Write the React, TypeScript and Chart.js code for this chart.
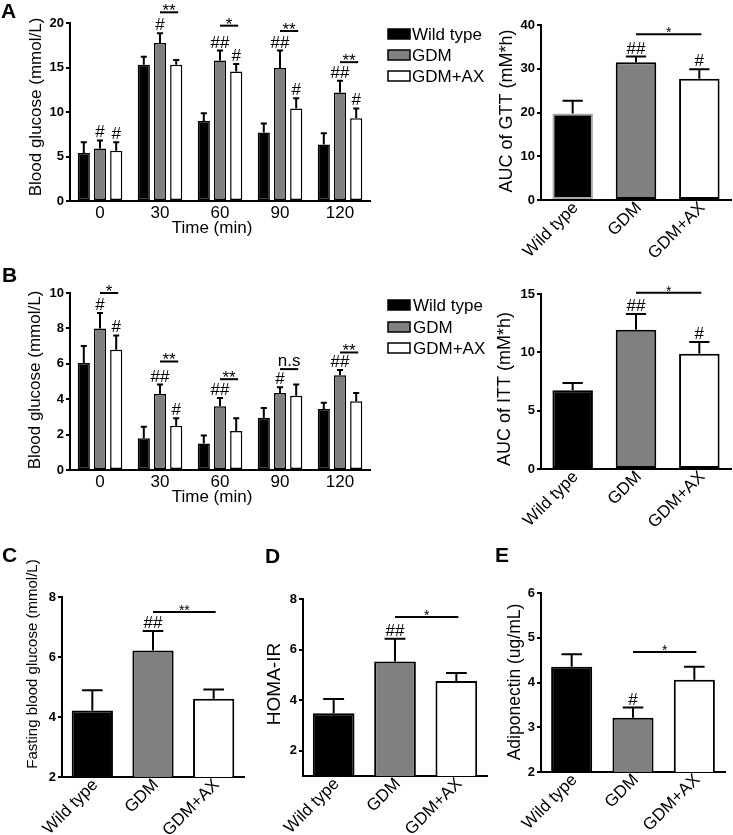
import React, { useEffect, useRef } from "react";
import { Chart, registerables } from "chart.js";

Chart.register(...registerables);

const FONT = 'Arial, "Liberation Sans", Helvetica, sans-serif';
Chart.defaults.font.family = FONT;

// ---------- data ----------
const timePoints = ["0", "30", "60", "90", "120"];
const groupNames = ["Wild type", "GDM", "GDM+AX"];

// A: glucose tolerance test
const gttWT = [5.4, 15.3, 9.0, 7.7, 6.35];
const gttWTErr = [1.2, 0.9, 0.85, 1.0, 1.25];
const gttGDM = [5.9, 17.75, 15.8, 14.95, 12.2];
const gttGDMErr = [0.9, 1.1, 1.1, 1.95, 1.3];
const gttAX = [5.65, 15.3, 14.55, 10.4, 9.3];
const gttAXErr = [0.95, 0.55, 0.85, 1.15, 1.1];
const gttHashGDM = ["#", "#", "##", "##", "##"];
const gttHashAX = ["#", "", "#", "#", "#"];
const gttSig = ["", "**", "*", "**", "**"];
const gttSigLevel = [0, 21.2, 19.7, 19.1, 15.6];
const gttTicks = { min: 0, max: 20, step: 5 };

// B: insulin tolerance test
const ittWT = [6.05, 1.8, 1.5, 2.95, 3.45];
const ittWTErr = [0.95, 0.65, 0.45, 0.55, 0.35];
const ittGDM = [8.0, 4.3, 3.6, 4.35, 5.35];
const ittGDMErr = [0.87, 0.53, 0.47, 0.32, 0.3];
const ittAX = [6.8, 2.5, 2.2, 4.2, 3.88];
const ittAXErr = [0.8, 0.42, 0.72, 0.63, 0.47];
const ittHashGDM = ["#", "##", "##", "#", "##"];
const ittHashAX = ["#", "#", "", "", ""];
const ittSig = ["*", "**", "**", "n.s", "**"];
const ittSigLevel = [10.0, 6.13, 5.13, 5.7, 6.64];
const ittTicks = { min: 0, max: 10, step: 2 };

// AUC GTT
const gttAuc = [19.8, 31.5, 27.7];
const gttAucErr = [2.9, 1.3, 2.2];
const gttAucHash = ["", "##", "#"];
const gttAucSig = "*";
const gttAucSigLevel = 37.9;

// AUC ITT
const ittAuc = [6.74, 11.94, 9.88];
const ittAucErr = [0.63, 1.34, 1.0];
const ittAucHash = ["", "##", "#"];
const ittAucSig = "*";
const ittAucSigLevel = 15.1;

// C: fasting blood glucose
const fbg = [4.22, 6.22, 4.61];
const fbgErr = [0.67, 0.65, 0.31];
const fbgHash = ["", "##", ""];
const fbgSig = "**";
const fbgSigLevel = 7.5;

// D: HOMA-IR
const homa = [3.48, 5.53, 4.76];
const homaErr = [0.57, 0.9, 0.31];
const homaHash = ["", "##", ""];
const homaSig = "*";
const homaSigLevel = 7.29;

// E: adiponectin
const adipo = [4.35, 3.21, 4.06];
const adipoErr = [0.28, 0.23, 0.29];
const adipoHash = ["", "#", ""];
const adipoSig = "*";
const adipoSigLevel = 4.68;

// ---------- styles ----------
const C_WT = "#000000";
const C_GDM = "#808080";
const C_AX = "#ffffff";

type TextItem = { text: string; x: number; y: number; font: string; rotate?: boolean; baseline?: CanvasTextBaseline; align?: CanvasTextAlign };
type Pair = { a: [number, number]; b: [number, number]; level: number; text: string };

type Spec = {
  box: { x: number; y: number; w: number; h: number };
  area: { top: number; right: number; yw: number; xh: number };
  labels: string[];
  datasets: any[];
  errors: number[][];
  hashes: string[][];
  pairs: Pair[];
  yTicks: { min: number; max: number; step: number };
  rot: number;
  xPad: number;
  xShift: number;
  starFont: string;
  starDy: number;
  texts: TextItem[];
  legend?: { x: number; rows: number[]; textX: number };
};

function makeAnnot(p: Spec) {
  return {
    id: "annot",
    afterDatasetsDraw(chart: any) {
      const ctx = chart.ctx as CanvasRenderingContext2D;
      const ys = chart.scales.y;
      ctx.save();
      ctx.strokeStyle = "#000";
      ctx.fillStyle = "#000";
      ctx.lineWidth = 2;
      p.errors.forEach((errs, di) => {
        const meta = chart.getDatasetMeta(di);
        const data = chart.data.datasets[di].data;
        meta.data.forEach((el: any, i: number) => {
          const e = errs[i];
          if (!e) return;
          const top = ys.getPixelForValue(data[i] + e);
          const half = el.width * 0.25;
          ctx.beginPath();
          ctx.moveTo(el.x, el.y);
          ctx.lineTo(el.x, top);
          ctx.moveTo(el.x - half, top);
          ctx.lineTo(el.x + half, top);
          ctx.stroke();
          const h = (p.hashes[di] || [])[i];
          if (h) {
            ctx.font = `17px ${FONT}`;
            ctx.textAlign = "center";
            ctx.textBaseline = "alphabetic";
            ctx.fillText(h, el.x, top - 3);
          }
        });
      });
      p.pairs.forEach((pr) => {
        const a = chart.getDatasetMeta(pr.a[0]).data[pr.a[1]];
        const b = chart.getDatasetMeta(pr.b[0]).data[pr.b[1]];
        const yy = ys.getPixelForValue(pr.level);
        ctx.beginPath();
        ctx.moveTo(a.x, yy);
        ctx.lineTo(b.x + 2, yy);
        ctx.stroke();
        const isStar = /^\*+$/.test(pr.text);
        ctx.textAlign = "center";
        ctx.textBaseline = "alphabetic";
        ctx.font = isStar ? p.starFont : `17px ${FONT}`;
        ctx.fillText(pr.text, (a.x + b.x) / 2 + 1, isStar ? yy + p.starDy : yy - 3);
      });
      ctx.restore();
    },
    afterDraw(chart: any) {
      const ctx = chart.ctx as CanvasRenderingContext2D;
      ctx.save();
      ctx.fillStyle = "#000";
      p.texts.forEach((t) => {
        ctx.save();
        ctx.font = t.font;
        ctx.textAlign = t.align || "center";
        ctx.textBaseline = t.baseline || "middle";
        ctx.translate(t.x, t.y);
        if (t.rotate) ctx.rotate(-Math.PI / 2);
        ctx.fillText(t.text, 0, 0);
        ctx.restore();
      });
      if (p.legend) {
        const lg = p.legend;
        const fills = [C_WT, C_GDM, C_AX];
        groupNames.forEach((name, i) => {
          const cy = lg.rows[i];
          ctx.fillStyle = fills[i];
          ctx.fillRect(lg.x, cy - 5, 22, 10);
          ctx.strokeStyle = "#000";
          ctx.lineWidth = 1.5;
          ctx.strokeRect(lg.x, cy - 5, 22, 10);
          ctx.fillStyle = "#000";
          ctx.font = `17px ${FONT}`;
          ctx.textAlign = "left";
          ctx.textBaseline = "middle";
          ctx.fillText(name, lg.textX, cy + 1);
        });
      }
      ctx.restore();
    },
  };
}

function makeConfig(p: Spec): any {
  return {
    type: "bar",
    data: { labels: p.labels, datasets: p.datasets },
    options: {
      responsive: false,
      animation: false,
      devicePixelRatio: 1,
      events: [],
      layout: { padding: { top: p.area.top, right: p.area.right, left: 0, bottom: 0 } },
      plugins: { legend: { display: false }, tooltip: { enabled: false } },
      scales: {
        x: {
          grid: { display: false, drawTicks: false },
          border: { display: true, width: 2, color: "#000" },
          ticks: {
            color: "#000",
            font: { family: FONT, size: 17 },
            padding: p.xPad,
            labelOffset: p.xShift,
            minRotation: p.rot,
            maxRotation: p.rot,
            autoSkip: false,
          },
          afterFit: (s: any) => {
            s.height = p.area.xh;
          },
        },
        y: {
          min: p.yTicks.min,
          max: p.yTicks.max,
          ticks: {
            stepSize: p.yTicks.step,
            includeBounds: false,
            color: "#000",
            font: { family: FONT, size: 13, weight: "bold" },
            padding: 2,
          },
          grid: { display: true, drawOnChartArea: false, drawTicks: true, tickLength: 4, lineWidth: 2, color: "#000" },
          border: { display: true, width: 2, color: "#000" },
          afterFit: (s: any) => {
            s.width = p.area.yw;
          },
        },
      },
    },
    plugins: [makeAnnot(p)],
  };
}

function groupedDatasets(wt: number[], gdm: number[], ax: number[]) {
  const common = { borderColor: "#000", borderWidth: 1.5, borderSkipped: false, barPercentage: 0.75, categoryPercentage: 0.81 };
  return [
    { label: groupNames[0], data: wt, backgroundColor: C_WT, ...common },
    { label: groupNames[1], data: gdm, backgroundColor: C_GDM, ...common },
    { label: groupNames[2], data: ax, backgroundColor: C_AX, ...common },
  ];
}

function singleDataset(vals: number[], pct: number, firstBorder = "#000") {
  return [
    {
      label: "value",
      data: vals,
      backgroundColor: [C_WT, C_GDM, C_AX],
      borderColor: [firstBorder, "#000", "#000"],
      borderWidth: 2,
      borderSkipped: false,
      barPercentage: pct,
      categoryPercentage: 1,
    },
  ];
}

function groupPairs(sig: string[], levels: number[]): Pair[] {
  const out: Pair[] = [];
  sig.forEach((s, i) => {
    if (s) out.push({ a: [1, i], b: [2, i], level: levels[i], text: s });
  });
  return out;
}

const letter = (t: string, x: number, y: number): TextItem => ({ text: t, x, y, font: `bold 21px ${FONT}`, align: "left", baseline: "alphabetic" });
const yTitle = (t: string, x: number, y: number, size: number): TextItem => ({ text: t, x, y, font: `${size}px ${FONT}`, rotate: true });

const specs: Spec[] = [
  {
    box: { x: 0, y: 0, w: 530, h: 245 },
    area: { top: 23, right: 160, yw: 70, xh: 44 },
    labels: timePoints,
    datasets: groupedDatasets(gttWT, gttGDM, gttAX),
    errors: [gttWTErr, gttGDMErr, gttAXErr],
    hashes: [[], gttHashGDM, gttHashAX],
    pairs: groupPairs(gttSig, gttSigLevel),
    yTicks: gttTicks,
    rot: 0,
    xPad: 2,
    xShift: 0,
    starFont: `17px ${FONT}`,
    starDy: 4,
    texts: [
      letter("A", 1, 18),
      yTitle("Blood glucose (mmol/L)", 36, 107, 17),
      { text: "Time (min)", x: 212, y: 228, font: `17px ${FONT}` },
    ],
    legend: { x: 388, rows: [34, 55, 76], textX: 412 },
  },
  {
    box: { x: 0, y: 260, w: 530, h: 250 },
    area: { top: 33, right: 160, yw: 70, xh: 40 },
    labels: timePoints,
    datasets: groupedDatasets(ittWT, ittGDM, ittAX),
    errors: [ittWTErr, ittGDMErr, ittAXErr],
    hashes: [[], ittHashGDM, ittHashAX],
    pairs: groupPairs(ittSig, ittSigLevel),
    yTicks: ittTicks,
    rot: 0,
    xPad: 2,
    xShift: 0,
    starFont: `17px ${FONT}`,
    starDy: 4,
    texts: [
      letter("B", 2, 22),
      yTitle("Blood glucose (mmol/L)", 35, 120, 17),
      { text: "Time (min)", x: 212, y: 237, font: `17px ${FONT}` },
    ],
    legend: { x: 388, rows: [45, 67, 88], textX: 413 },
  },
  {
    box: { x: 480, y: 0, w: 253, h: 266 },
    area: { top: 25, right: 2, yw: 61, xh: 66 },
    labels: groupNames,
    datasets: singleDataset(gttAuc, 0.64, "#a8a8a8"),
    errors: [gttAucErr],
    hashes: [gttAucHash],
    pairs: [{ a: [0, 1], b: [0, 2], level: gttAucSigLevel, text: gttAucSig }],
    yTicks: { min: 0, max: 40, step: 10 },
    rot: 45,
    xPad: -2,
    xShift: 3,
    starFont: `14px ${FONT}`,
    starDy: 3,
    texts: [yTitle("AUC of GTT (mM*h)", 27, 111, 18)],
  },
  {
    box: { x: 480, y: 260, w: 253, h: 280 },
    area: { top: 34, right: 2, yw: 61, xh: 71 },
    labels: groupNames,
    datasets: singleDataset(ittAuc, 0.64),
    errors: [ittAucErr],
    hashes: [ittAucHash],
    pairs: [{ a: [0, 1], b: [0, 2], level: ittAucSigLevel, text: ittAucSig }],
    yTicks: { min: 0, max: 15, step: 5 },
    rot: 45,
    xPad: -2,
    xShift: 3,
    starFont: `14px ${FONT}`,
    starDy: 3,
    texts: [yTitle("AUC of ITT (mM*h)", 25, 129, 18)],
  },
  {
    box: { x: 0, y: 540, w: 250, h: 295 },
    area: { top: 57, right: 6, yw: 62, xh: 58 },
    labels: groupNames,
    datasets: singleDataset(fbg, 0.68),
    errors: [fbgErr],
    hashes: [fbgHash],
    pairs: [{ a: [0, 1], b: [0, 2], level: fbgSigLevel, text: fbgSig }],
    yTicks: { min: 2, max: 8, step: 2 },
    rot: 45,
    xPad: -2,
    xShift: 3,
    starFont: `14px ${FONT}`,
    starDy: 3,
    texts: [letter("C", 2, 22), yTitle("Fasting blood glucose (mmol/L)", 33, 124, 15)],
  },
  {
    box: { x: 245, y: 540, w: 245, h: 295 },
    area: { top: 59, right: 3, yw: 58, xh: 59 },
    labels: groupNames,
    datasets: singleDataset(homa, 0.68),
    errors: [homaErr],
    hashes: [homaHash],
    pairs: [{ a: [0, 1], b: [0, 2], level: homaSigLevel, text: homaSig }],
    yTicks: { min: 1, max: 8, step: 2 },
    rot: 45,
    xPad: -2,
    xShift: 3,
    starFont: `14px ${FONT}`,
    starDy: 3,
    texts: [letter("D", 20, 23), yTitle("HOMA-IR", 30, 144, 19)],
  },
  {
    box: { x: 490, y: 540, w: 243, h: 295 },
    area: { top: 53, right: 8, yw: 51, xh: 63 },
    labels: groupNames,
    datasets: singleDataset(adipo, 0.67),
    errors: [adipoErr],
    hashes: [adipoHash],
    pairs: [{ a: [0, 1], b: [0, 2], level: adipoSigLevel, text: adipoSig }],
    yTicks: { min: 2, max: 6, step: 1 },
    rot: 45,
    xPad: -2,
    xShift: 3,
    starFont: `14px ${FONT}`,
    starDy: 3,
    texts: [letter("E", 5, 22), yTitle("Adiponectin (ug/mL)", 25, 142, 17.5)],
  },
];

function Panel({ spec }: { spec: Spec }) {
  const ref = useRef<HTMLCanvasElement>(null);
  useEffect(() => {
    const chart = new Chart(ref.current as HTMLCanvasElement, makeConfig(spec));
    return () => chart.destroy();
  }, [spec]);
  const b = spec.box;
  return (
    <canvas
      ref={ref}
      width={b.w}
      height={b.h}
      style={{ position: "absolute", left: b.x, top: b.y, width: b.w, height: b.h }}
    />
  );
}

export default function App() {
  useEffect(() => {
    document.body.style.margin = "0";
    document.body.style.background = "#fff";
  }, []);
  return (
    <div style={{ position: "relative", width: 733, height: 835, background: "#fff", overflow: "hidden" }}>
      {specs.map((s, i) => (
        <Panel key={i} spec={s} />
      ))}
    </div>
  );
}
